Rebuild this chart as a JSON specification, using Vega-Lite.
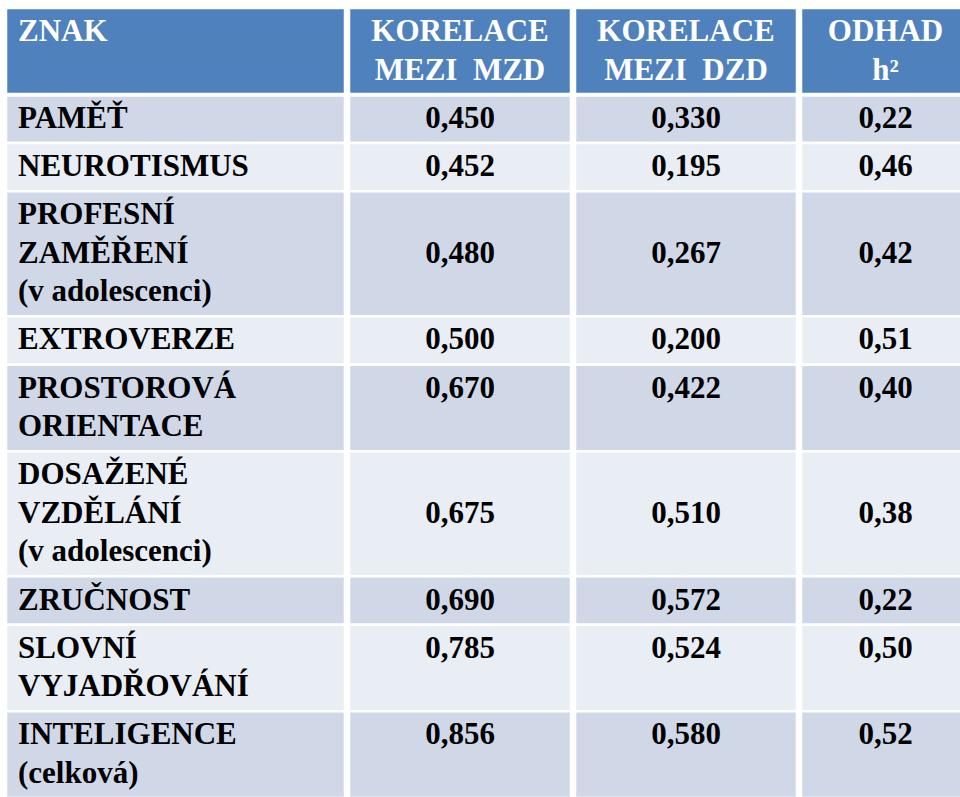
{
  "$schema": "https://vega.github.io/schema/vega-lite/v6.json",
  "padding": {"left": 4, "top": 6, "right": 4, "bottom": 1},
  "spacing": 0,
  "config": {"view": {"stroke": null}},
  "data": {
    "values": [
      {"znak": ["ZNAK", ""]},
      {"znak": ["PAMĚŤ"], "mzd": 0.45, "dzd": 0.33, "h2": 0.22},
      {"znak": ["NEUROTISMUS"], "mzd": 0.452, "dzd": 0.195, "h2": 0.46},
      {"znak": ["PROFESNÍ", "ZAMĚŘENÍ", "(v adolescenci)"], "mzd": 0.48, "dzd": 0.267, "h2": 0.42},
      {"znak": ["EXTROVERZE"], "mzd": 0.5, "dzd": 0.2, "h2": 0.51},
      {"znak": ["PROSTOROVÁ", "ORIENTACE"], "mzd": 0.67, "dzd": 0.422, "h2": 0.4},
      {"znak": ["DOSAŽENÉ", "VZDĚLÁNÍ", "(v adolescenci)"], "mzd": 0.675, "dzd": 0.51, "h2": 0.38},
      {"znak": ["ZRUČNOST"], "mzd": 0.69, "dzd": 0.572, "h2": 0.22},
      {"znak": ["SLOVNÍ", "VYJADŘOVÁNÍ"], "mzd": 0.785, "dzd": 0.524, "h2": 0.5},
      {"znak": ["INTELIGENCE", "(celková)"], "mzd": 0.856, "dzd": 0.58, "h2": 0.52}
    ]
  },
  "transform": [
    {"window": [{"op": "row_number", "as": "rn"}]},
    {"calculate": "length(datum.znak)", "as": "lines"},
    {"calculate": "datum.lines + 0.26", "as": "pitch"},
    {"window": [{"op": "sum", "field": "pitch", "as": "bottom"}], "frame": [null, 0]},
    {"calculate": "datum.bottom - datum.pitch", "as": "top"},
    {"calculate": "datum.top + 0.63", "as": "line0"},
    {"calculate": "datum.top + 0.63 + floor((datum.lines - 1) / 2)", "as": "numY"},
    {"calculate": "datum.rn == 1 ? 'header' : (datum.rn % 2 == 0 ? 'dark' : 'light')", "as": "band"},
    {"calculate": "replace(format(datum.mzd, '.3f'), '.', ',')", "as": "mzdText"},
    {"calculate": "replace(format(datum.dzd, '.3f'), '.', ',')", "as": "dzdText"},
    {"calculate": "replace(format(datum.h2, '.2f'), '.', ',')", "as": "h2Text"}
  ],
  "hconcat": [
    {
      "width": 339, "height": 790,
      "layer": [
        {"mark": {"type": "rect", "stroke": "white", "strokeWidth": 2.5},
         "encoding": {
           "y": {"field": "top", "type": "quantitative", "scale": {"domain": [0, 20.6], "reverse": true, "nice": false, "zero": false}, "axis": null},
           "y2": {"field": "bottom"},
           "fill": {"field": "band", "type": "nominal", "scale": {"domain": ["header", "dark", "light"], "range": ["#4F81BD", "#D0D8E8", "#E9EDF4"]}, "legend": null}}},
        {"transform": [{"filter": "datum.rn == 1"}],
         "mark": {"type": "rule", "color": "white", "strokeWidth": 4},
         "encoding": {"y": {"field": "bottom", "type": "quantitative", "scale": {"domain": [0, 20.6], "reverse": true, "nice": false, "zero": false}, "axis": null}}},
        {"mark": {"type": "text", "font": "Liberation Serif", "fontWeight": "bold", "fontSize": 31, "align": "left", "baseline": "middle", "lineHeight": 38.35},
         "encoding": {
           "x": {"value": 12},
           "y": {"field": "line0", "type": "quantitative", "scale": {"domain": [0, 20.6], "reverse": true, "nice": false, "zero": false}, "axis": null},
           "text": {"field": "znak"},
           "color": {"condition": {"test": "datum.rn == 1", "value": "white"}, "value": "black"}}}
      ]
    },
    {
      "width": 222, "height": 790,
      "layer": [
        {"mark": {"type": "rect", "stroke": "white", "strokeWidth": 2.5},
         "encoding": {
           "y": {"field": "top", "type": "quantitative", "scale": {"domain": [0, 20.6], "reverse": true, "nice": false, "zero": false}, "axis": null},
           "y2": {"field": "bottom"},
           "fill": {"field": "band", "type": "nominal", "scale": {"domain": ["header", "dark", "light"], "range": ["#4F81BD", "#D0D8E8", "#E9EDF4"]}, "legend": null}}},
        {"transform": [{"filter": "datum.rn == 1"}],
         "mark": {"type": "rule", "color": "white", "strokeWidth": 4},
         "encoding": {"y": {"field": "bottom", "type": "quantitative", "scale": {"domain": [0, 20.6], "reverse": true, "nice": false, "zero": false}, "axis": null}}},
        {"transform": [{"filter": "datum.rn == 1"}],
         "mark": {"type": "text", "text": ["KORELACE", "MEZI\u00a0 MZD"], "font": "Liberation Serif", "fontWeight": "bold", "fontSize": 31, "align": "center", "baseline": "middle", "lineHeight": 38.35, "color": "white"},
         "encoding": {"y": {"field": "line0", "type": "quantitative", "scale": {"domain": [0, 20.6], "reverse": true, "nice": false, "zero": false}, "axis": null}}},
        {"transform": [{"filter": "datum.rn > 1"}],
         "mark": {"type": "text", "font": "Liberation Serif", "fontWeight": "bold", "fontSize": 31, "align": "center", "baseline": "middle", "color": "black"},
         "encoding": {
           "y": {"field": "numY", "type": "quantitative", "scale": {"domain": [0, 20.6], "reverse": true, "nice": false, "zero": false}, "axis": null},
           "text": {"field": "mzdText"}}}
      ]
    },
    {
      "width": 222, "height": 790,
      "layer": [
        {"mark": {"type": "rect", "stroke": "white", "strokeWidth": 2.5},
         "encoding": {
           "y": {"field": "top", "type": "quantitative", "scale": {"domain": [0, 20.6], "reverse": true, "nice": false, "zero": false}, "axis": null},
           "y2": {"field": "bottom"},
           "fill": {"field": "band", "type": "nominal", "scale": {"domain": ["header", "dark", "light"], "range": ["#4F81BD", "#D0D8E8", "#E9EDF4"]}, "legend": null}}},
        {"transform": [{"filter": "datum.rn == 1"}],
         "mark": {"type": "rule", "color": "white", "strokeWidth": 4},
         "encoding": {"y": {"field": "bottom", "type": "quantitative", "scale": {"domain": [0, 20.6], "reverse": true, "nice": false, "zero": false}, "axis": null}}},
        {"transform": [{"filter": "datum.rn == 1"}],
         "mark": {"type": "text", "text": ["KORELACE", "MEZI\u00a0 DZD"], "font": "Liberation Serif", "fontWeight": "bold", "fontSize": 31, "align": "center", "baseline": "middle", "lineHeight": 38.35, "color": "white"},
         "encoding": {"y": {"field": "line0", "type": "quantitative", "scale": {"domain": [0, 20.6], "reverse": true, "nice": false, "zero": false}, "axis": null}}},
        {"transform": [{"filter": "datum.rn > 1"}],
         "mark": {"type": "text", "font": "Liberation Serif", "fontWeight": "bold", "fontSize": 31, "align": "center", "baseline": "middle", "color": "black"},
         "encoding": {
           "y": {"field": "numY", "type": "quantitative", "scale": {"domain": [0, 20.6], "reverse": true, "nice": false, "zero": false}, "axis": null},
           "text": {"field": "dzdText"}}}
      ]
    },
    {
      "width": 169, "height": 790,
      "layer": [
        {"mark": {"type": "rect", "stroke": "white", "strokeWidth": 2.5},
         "encoding": {
           "y": {"field": "top", "type": "quantitative", "scale": {"domain": [0, 20.6], "reverse": true, "nice": false, "zero": false}, "axis": null},
           "y2": {"field": "bottom"},
           "fill": {"field": "band", "type": "nominal", "scale": {"domain": ["header", "dark", "light"], "range": ["#4F81BD", "#D0D8E8", "#E9EDF4"]}, "legend": null}}},
        {"transform": [{"filter": "datum.rn == 1"}],
         "mark": {"type": "rule", "color": "white", "strokeWidth": 4},
         "encoding": {"y": {"field": "bottom", "type": "quantitative", "scale": {"domain": [0, 20.6], "reverse": true, "nice": false, "zero": false}, "axis": null}}},
        {"transform": [{"filter": "datum.rn == 1"}],
         "mark": {"type": "text", "text": ["ODHAD", "h²"], "font": "Liberation Serif", "fontWeight": "bold", "fontSize": 31, "align": "center", "baseline": "middle", "lineHeight": 38.35, "color": "white"},
         "encoding": {"y": {"field": "line0", "type": "quantitative", "scale": {"domain": [0, 20.6], "reverse": true, "nice": false, "zero": false}, "axis": null}}},
        {"transform": [{"filter": "datum.rn > 1"}],
         "mark": {"type": "text", "font": "Liberation Serif", "fontWeight": "bold", "fontSize": 31, "align": "center", "baseline": "middle", "color": "black"},
         "encoding": {
           "y": {"field": "numY", "type": "quantitative", "scale": {"domain": [0, 20.6], "reverse": true, "nice": false, "zero": false}, "axis": null},
           "text": {"field": "h2Text"}}}
      ]
    }
  ]
}
